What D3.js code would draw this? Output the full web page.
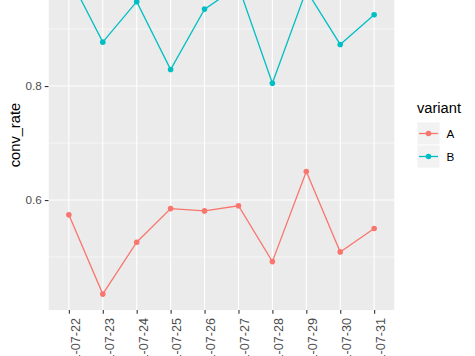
<!DOCTYPE html>
<html>
<head>
<meta charset="utf-8">
<script src="https://cdn.jsdelivr.net/npm/d3@7"></script>
<style>
  html, body { margin: 0; padding: 0; background: #ffffff; }
  svg { display: block; font-family: "Liberation Sans", Arial, sans-serif; }
</style>
</head>
<body>
<script>
// ---- data ----
const dates = ["2021-07-22","2021-07-23","2021-07-24","2021-07-25","2021-07-26",
               "2021-07-27","2021-07-28","2021-07-29","2021-07-30","2021-07-31"];
const variants = ["A", "B"];
const valuesA = [0.574, 0.435, 0.526, 0.585, 0.581, 0.590, 0.492, 0.650, 0.509, 0.550];
const valuesB = [0.993, 0.877, 0.948, 0.829, 0.935, 0.975, 0.805, 0.968, 0.873, 0.925];
const majorTicks = [0.6, 0.8, 1.0];
const labelTicks = [0.6, 0.8];
const minorTicks = [0.5, 0.7, 0.9];
const colors = ["#F8766D", "#00BFC4"];

// ---- layout ----
const W = 475, H = 356;
const panelLeft = 48.5, panelRight = 394.5, panelBottom = 310;
const pxPerUnit = 570;

const allVals = valuesA.concat(valuesB);
const lo = d3.min(allVals), hi = d3.max(allVals);
const pad = (hi - lo) * 0.05;
const yDomain = [lo - pad, hi + pad];
const panelTop = panelBottom - pxPerUnit * (yDomain[1] - yDomain[0]);

const svg = d3.select("body").append("svg")
  .attr("width", W).attr("height", H);
svg.append("rect").attr("width", W).attr("height", H).attr("fill", "#ffffff");

const x = d3.scalePoint().domain(dates).range([panelLeft, panelRight]).padding(0.6);
const y = d3.scaleLinear().domain(yDomain).range([panelBottom, panelTop]);

const clip = svg.append("defs").append("clipPath").attr("id", "pclip");
clip.append("rect").attr("x", panelLeft).attr("y", panelTop)
  .attr("width", panelRight - panelLeft).attr("height", panelBottom - panelTop);

const panel = svg.append("g").attr("clip-path", "url(#pclip)");
panel.append("rect").attr("x", panelLeft).attr("y", panelTop)
  .attr("width", panelRight - panelLeft).attr("height", panelBottom - panelTop)
  .attr("fill", "#EBEBEB");

// minor grid
panel.selectAll(".minor").data(minorTicks).enter().append("line")
  .attr("x1", panelLeft).attr("x2", panelRight)
  .attr("y1", d => y(d)).attr("y2", d => y(d))
  .attr("stroke", "#ffffff").attr("stroke-width", 0.55);
// major grid
panel.selectAll(".majorY").data(majorTicks).enter().append("line")
  .attr("x1", panelLeft).attr("x2", panelRight)
  .attr("y1", d => y(d)).attr("y2", d => y(d))
  .attr("stroke", "#ffffff").attr("stroke-width", 1.1);
panel.selectAll(".majorX").data(dates).enter().append("line")
  .attr("x1", d => x(d)).attr("x2", d => x(d))
  .attr("y1", panelTop).attr("y2", panelBottom)
  .attr("stroke", "#ffffff").attr("stroke-width", 1.1);

// series
const series = [valuesA, valuesB];
const line = d3.line().x((d, i) => x(dates[i])).y(d => y(d));
series.forEach((vals, si) => {
  panel.append("path").datum(vals)
    .attr("d", line).attr("fill", "none")
    .attr("stroke", colors[si]).attr("stroke-width", 1.3);
  panel.selectAll(".pt" + si).data(vals).enter().append("circle")
    .attr("cx", (d, i) => x(dates[i])).attr("cy", d => y(d))
    .attr("r", 2.8).attr("fill", colors[si]);
});

// y axis
const yAxis = d3.axisLeft(y).tickValues(labelTicks).tickFormat(d3.format(".1f"))
  .tickSize(3.7).tickPadding(3);
const gy = svg.append("g").attr("transform", `translate(${panelLeft},0)`).call(yAxis);
gy.select(".domain").remove();
gy.selectAll(".tick line").attr("stroke", "#333333").attr("stroke-width", 1.1);
gy.selectAll(".tick text").attr("fill", "#4D4D4D").attr("font-size", "11.7px")
  .attr("font-family", "'Liberation Sans', Arial, sans-serif");

// x axis
const xAxis = d3.axisBottom(x).tickSize(3.7).tickPadding(0);
const gx = svg.append("g").attr("transform", `translate(0,${panelBottom})`).call(xAxis);
gx.select(".domain").remove();
gx.selectAll(".tick line").attr("stroke", "#333333").attr("stroke-width", 1.1);
gx.selectAll(".tick text")
  .attr("fill", "#4D4D4D").attr("font-size", "12.6px")
  .attr("font-family", "'Liberation Sans', Arial, sans-serif")
  .attr("text-anchor", "end")
  .attr("transform", "translate(0,8) rotate(-90)")
  .attr("x", 0).attr("y", 0).attr("dy", "0.82em");

// y title
svg.append("text")
  .attr("transform", `translate(19.5,${(panelTop + panelBottom) / 2}) rotate(-90)`)
  .attr("text-anchor", "middle").attr("font-size", "14.67px").attr("fill", "#000000")
  .text("conv_rate");

// legend
const lg = svg.append("g");
lg.append("text").attr("x", 417).attr("y", 113).attr("font-size", "14.67px")
  .attr("fill", "#000000").text("variant");
variants.forEach((v, i) => {
  const ky = 122 + i * 23;
  lg.append("rect").attr("x", 417).attr("y", ky).attr("width", 23).attr("height", 23)
    .attr("fill", "#F2F2F2").attr("stroke", "#ffffff").attr("stroke-width", 0.8);
  lg.append("line").attr("x1", 419).attr("x2", 438).attr("y1", ky + 11.5).attr("y2", ky + 11.5)
    .attr("stroke", colors[i]).attr("stroke-width", 1.3);
  lg.append("circle").attr("cx", 428.5).attr("cy", ky + 11.5).attr("r", 2.8).attr("fill", colors[i]);
  lg.append("text").attr("x", 446.5).attr("y", ky + 11.5).attr("dy", "0.35em")
    .attr("font-size", "11.7px").attr("fill", "#000000").text(v);
});
</script>
</body>
</html>
